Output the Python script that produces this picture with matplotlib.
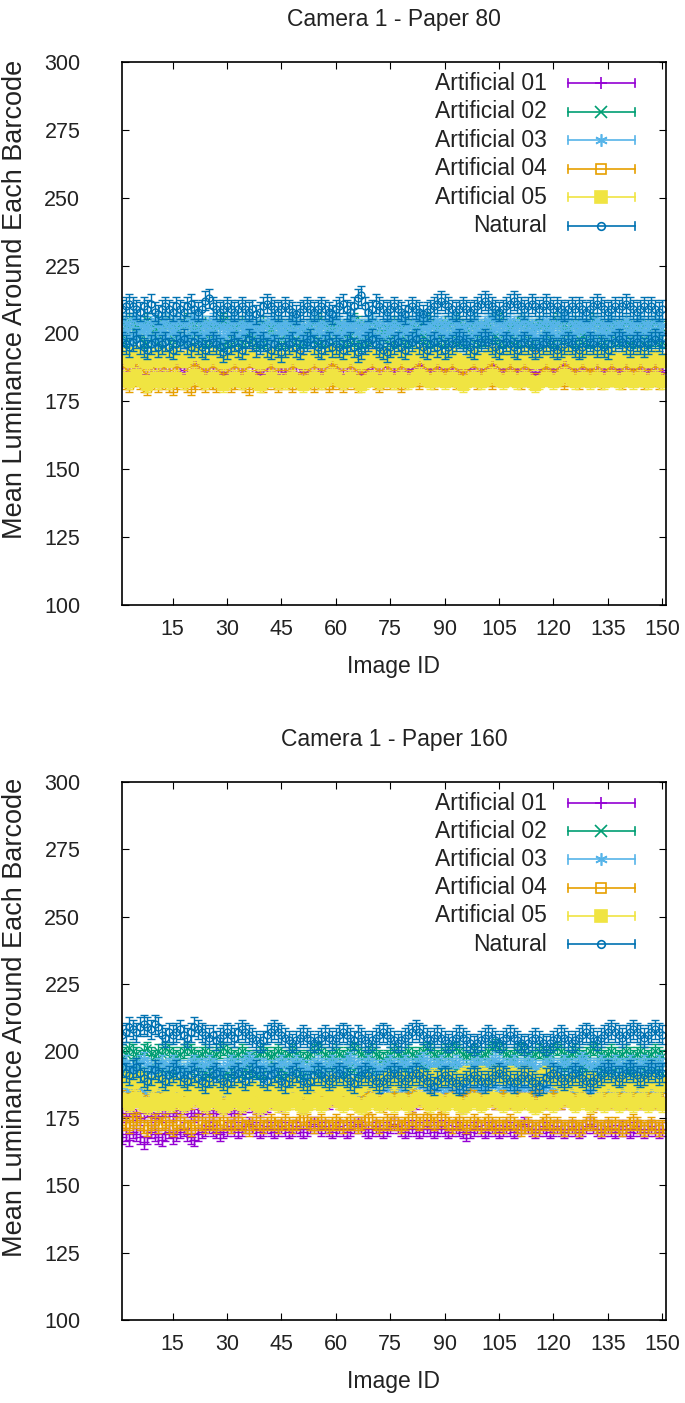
import numpy as np
import matplotlib
matplotlib.use("Agg")
import matplotlib.pyplot as plt

plt.rcParams['font.family'] = ['Liberation Sans', 'DejaVu Sans']

image_id = np.arange(1, 151)
labels = ["Artificial 01", "Artificial 02", "Artificial 03",
          "Artificial 04", "Artificial 05", "Natural"]
colors = ["#9400d3", "#009e73", "#56b4e9", "#e69f00", "#f0e442", "#0072b2"]
errs = [2.5, 2.5, 2.5, 2.5, 2.5, 3.5]

# ---- Camera 1 - Paper 80 (two barcode bands per series) ----
p80_a01_hi = [190,191,189,188,190,192,191,189,188,190,191,190,189,188,190,
              191,189,190,192,191,190,189,188,189,190,191,190,189,188,189,
              190,191,190,189,190,191,192,190,189,188,189,190,191,190,189,
              188,189,190,191,190,189,188,190,191,190,189,190,191,189,188,
              189,190,191,190,189,188,189,190,191,192,190,189,188,189,190,
              189,188,189,190,189,188,187,188,189,190,189,188,189,190,189,
              188,189,190,189,188,189,190,191,190,189,188,189,190,189,188,
              189,190,189,188,189,190,191,190,189,188,189,190,189,190,189,
              188,189,190,191,190,189,188,189,190,189,188,189,190,189,188,
              189,190,189,188,189,190,189,188,189,190,189,188,189,190,189]
p80_a01_lo = [186,185,184,186,187,185,184,183,185,186,184,185,186,184,183,
              185,186,185,184,183,185,186,185,184,186,185,184,185,186,185,
              184,185,186,185,184,183,185,186,185,184,185,186,185,184,185,
              186,185,184,185,186,187,186,185,184,185,186,185,184,185,186,
              185,184,185,186,185,184,185,186,187,186,185,184,185,186,185,
              186,185,184,185,186,187,186,185,186,187,186,185,186,187,186,
              187,186,185,186,187,188,187,186,185,186,187,186,185,186,187,
              186,187,188,187,186,185,186,187,186,185,186,187,188,187,186,
              187,186,185,186,187,186,185,186,187,188,187,186,185,186,187,
              186,187,186,185,186,187,188,187,186,185,186,187,186,185,186]
p80_a02_hi = [204,203,205,204,203,202,204,205,203,202,204,203,205,204,203,
              202,203,204,205,204,203,202,203,204,203,202,203,204,205,204,
              203,202,203,204,203,202,201,202,203,204,203,202,203,204,203,
              202,203,204,203,202,201,202,203,204,205,204,203,202,203,204,
              203,202,203,204,205,204,203,202,203,204,203,202,201,202,203,
              204,203,202,203,204,203,202,203,204,205,204,203,202,203,204,
              203,204,205,204,203,202,203,204,203,202,203,204,205,206,205,
              204,203,202,203,204,205,204,203,202,203,204,203,202,203,204,
              205,204,203,202,203,204,203,202,203,204,205,204,203,202,203,
              204,203,202,203,204,203,202,203,204,203,202,203,204,203,202]
p80_a02_lo = [199,198,197,199,200,198,197,196,198,199,197,198,199,197,198,
              199,198,197,198,199,200,199,198,197,198,199,198,197,196,197,
              198,199,198,197,198,199,198,197,196,197,198,199,198,197,198,
              197,198,199,198,197,196,197,198,199,198,197,198,199,200,199,
              198,197,198,199,198,197,196,197,198,199,198,197,198,199,198,
              197,198,199,198,197,198,199,200,199,198,197,198,199,198,197,
              198,199,198,197,196,197,198,199,198,197,198,199,200,199,198,
              197,198,199,198,197,198,199,198,197,196,197,198,199,198,197,
              198,199,200,199,198,197,198,199,198,197,198,199,198,197,198,
              199,198,197,198,199,198,197,198,199,198,197,198,199,198,197]
p80_a03_hi = [205,204,203,205,206,204,203,202,204,205,203,204,205,203,204,
              205,204,203,204,205,206,205,204,203,204,205,204,203,202,203,
              204,205,204,203,204,205,204,203,202,203,204,205,204,203,204,
              203,204,205,204,203,202,203,204,205,204,203,204,205,206,205,
              204,203,204,205,204,203,202,203,204,205,204,203,204,205,204,
              203,204,205,204,203,204,205,206,205,204,203,204,205,204,203,
              204,205,204,203,202,203,204,205,204,203,204,205,206,205,204,
              203,204,205,204,203,204,205,204,203,202,203,204,205,204,203,
              204,205,206,205,204,203,204,205,204,203,204,205,204,203,204,
              205,204,203,204,205,204,203,204,205,204,203,204,205,204,203]
p80_a03_lo = [200,201,199,198,200,201,202,200,199,198,200,201,199,200,201,
              200,199,198,199,200,201,200,199,200,201,200,199,198,199,200,
              201,200,199,200,201,202,201,200,199,200,199,198,199,200,201,
              200,199,200,201,200,199,198,199,200,201,200,199,200,201,200,
              199,200,201,202,201,200,199,200,201,200,199,198,199,200,201,
              200,199,200,201,200,199,200,201,202,201,200,199,200,201,200,
              199,200,201,200,199,198,199,200,201,200,199,200,201,202,201,
              200,199,200,201,200,199,200,201,200,199,198,199,200,201,200,
              199,200,201,200,199,200,201,202,201,200,199,200,201,200,199,
              200,201,200,199,200,201,200,199,200,201,200,199,200,201,200]
p80_a04_hi = [190,189,188,190,191,189,188,187,189,190,188,189,190,188,187,
              189,190,191,189,188,190,189,188,187,189,190,189,188,187,188,
              189,190,188,187,189,190,191,189,188,189,190,189,188,189,190,
              189,188,189,190,191,190,189,188,189,190,189,188,189,190,189,
              188,189,190,189,188,187,188,189,190,191,189,188,187,188,189,
              190,189,188,189,190,191,190,189,188,189,190,189,188,187,188,
              189,190,189,188,189,190,191,190,189,188,189,190,189,188,189,
              190,189,188,189,190,189,188,189,190,191,190,189,188,189,190,
              189,188,189,190,189,188,189,190,189,188,187,188,189,190,189,
              188,189,190,189,188,189,190,189,188,189,190,189,188,189,190]
p80_a04_lo = [183,182,181,183,184,182,181,180,182,183,181,182,183,181,180,
              182,183,182,181,180,182,183,182,181,183,182,181,182,183,182,
              181,182,183,182,181,180,182,183,182,181,182,183,182,181,182,
              183,182,181,182,183,184,183,182,181,182,183,182,181,182,183,
              182,181,182,183,182,181,182,183,184,183,182,181,182,183,182,
              183,182,181,182,183,184,183,182,183,184,183,182,183,184,183,
              184,183,182,183,184,185,184,183,182,183,184,183,182,183,184,
              183,184,185,184,183,182,183,184,183,182,183,184,185,184,183,
              184,183,182,183,184,183,182,183,184,185,184,183,182,183,184,
              183,184,183,182,183,184,185,184,183,182,183,184,183,182,183]
p80_a05_hi = [192,191,190,192,193,191,190,189,191,192,190,191,192,190,191,
              192,191,190,191,192,193,192,191,190,191,192,191,190,189,190,
              191,192,191,190,191,192,191,190,189,190,191,192,191,190,191,
              190,191,192,191,190,189,190,191,192,191,190,191,192,193,192,
              191,190,191,192,191,190,189,190,191,192,191,190,191,192,191,
              190,191,192,191,190,191,192,193,192,191,190,191,192,191,190,
              191,192,191,190,189,190,191,192,191,190,191,192,193,192,191,
              190,191,192,191,190,191,192,191,190,189,190,191,192,191,190,
              191,192,193,192,191,190,191,192,191,190,191,192,191,190,191,
              192,191,190,191,192,191,190,191,192,191,190,191,192,191,190]
p80_a05_lo = [184,183,182,184,185,183,182,181,183,184,182,183,184,182,183,
              184,183,182,183,184,185,184,183,182,183,184,183,182,181,182,
              183,184,183,182,183,184,183,182,181,182,183,184,183,182,183,
              182,183,184,183,182,181,182,183,184,183,182,183,184,185,184,
              183,182,183,184,183,182,181,182,183,184,183,182,183,184,183,
              182,183,184,183,182,183,184,185,184,183,182,183,184,183,182,
              183,184,183,182,181,182,183,184,183,182,183,184,185,184,183,
              182,183,184,183,182,183,184,183,182,181,182,183,184,183,182,
              183,184,185,184,183,182,183,184,183,182,183,184,183,182,183,
              184,183,182,183,184,183,182,183,184,183,182,183,184,183,182]
p80_nat_hi = [209,210,211,210,209,208,210,209,211,208,207,209,210,209,208,
              210,209,208,210,211,209,208,209,212,213,210,209,208,209,210,
              209,208,209,210,209,208,209,207,208,210,211,210,209,208,209,
              210,209,208,207,208,209,210,209,208,209,210,209,208,207,209,
              210,211,209,208,210,213,214,210,208,209,211,210,209,208,209,
              210,209,208,207,209,210,209,208,207,208,209,210,211,212,211,
              210,209,208,209,210,209,208,209,210,211,212,211,210,209,208,
              209,210,211,212,211,210,209,210,211,210,209,210,211,210,209,
              210,209,208,209,210,209,210,209,208,209,210,211,210,209,208,
              209,210,209,210,211,210,209,208,209,210,209,210,209,208,209]
p80_nat_lo = [197,196,195,197,198,196,195,194,196,197,195,196,197,195,194,
              196,197,198,196,195,197,196,195,194,196,197,196,195,193,194,
              196,197,195,194,196,198,197,195,196,197,195,194,196,195,193,
              195,196,197,195,194,196,197,198,196,195,194,196,197,195,196,
              195,194,196,197,195,193,194,196,197,198,196,195,194,193,195,
              196,197,195,194,196,197,198,196,195,194,196,197,195,196,194,
              195,196,197,198,197,196,195,194,196,197,198,197,196,195,194,
              196,197,196,195,194,196,197,196,195,194,195,196,197,196,195,
              194,195,196,197,196,195,194,195,196,197,196,195,196,195,194,
              196,197,198,197,196,195,196,197,196,195,196,197,198,197,196]

# ---- Camera 1 - Paper 160 ----
p160_a01_hi = [177,176,178,177,176,175,177,178,176,175,177,176,178,177,176,
               177,178,179,178,177,176,177,178,179,178,177,178,179,180,179,
               178,177,178,179,180,181,180,179,178,179,180,181,182,181,180,
               181,182,183,182,181,180,181,182,183,184,183,182,181,182,183,
               184,185,184,183,182,183,184,185,184,183,182,183,184,183,182,
               181,182,183,182,181,180,181,182,183,182,181,182,183,182,181,
               182,183,182,181,180,181,182,183,182,181,182,183,182,181,182,
               183,182,181,182,183,184,183,182,181,182,183,182,181,182,183,
               182,181,182,183,182,181,182,183,184,183,182,181,182,183,182,
               181,182,183,182,181,182,183,182,181,182,183,182,181,182,183]
p160_a01_lo = [168,169,167,170,169,168,166,168,170,169,168,167,169,170,168,
               169,170,171,169,168,167,169,170,171,172,171,170,169,170,171,
               172,171,170,171,172,173,172,171,170,171,172,171,170,171,172,
               171,170,171,172,171,170,171,172,173,172,171,172,171,170,171,
               172,171,170,171,172,173,172,171,170,171,172,171,170,171,172,
               173,172,171,170,171,172,171,170,171,172,171,170,171,172,171,
               170,171,172,171,170,169,170,171,172,171,170,171,172,171,170,
               171,172,171,170,171,172,173,172,171,170,171,172,171,170,171,
               172,171,170,171,172,171,170,171,172,173,172,171,170,171,172,
               171,170,171,172,171,170,171,172,171,170,171,172,171,170,171]
p160_a02_hi = [200,199,201,200,199,198,200,201,199,198,200,199,201,200,199,
               198,199,200,201,200,199,198,199,200,199,198,199,200,201,200,
               199,198,199,200,199,198,197,198,199,200,199,198,199,200,199,
               198,199,200,199,198,197,198,199,200,201,200,199,198,199,200,
               199,198,199,200,201,200,199,198,199,200,199,198,197,198,199,
               200,199,198,199,200,199,198,199,200,201,200,199,198,199,200,
               199,200,201,200,199,198,199,200,199,198,199,200,201,202,201,
               200,199,198,199,200,201,200,199,198,199,200,199,198,199,200,
               201,200,199,198,199,200,199,198,199,200,201,200,199,198,199,
               200,199,198,199,200,199,198,199,200,199,198,199,200,199,198]
p160_a02_lo = [194,193,192,194,195,193,192,191,193,194,192,193,194,192,193,
               194,193,192,193,194,195,194,193,192,193,194,193,192,191,192,
               193,194,193,192,193,194,193,192,191,192,193,194,193,192,193,
               192,193,194,193,192,191,192,193,194,193,192,193,194,195,194,
               193,192,193,194,193,192,191,192,193,194,193,192,193,194,193,
               192,193,194,193,192,193,194,195,194,193,192,193,194,193,192,
               193,194,193,192,191,192,193,194,193,192,193,194,195,194,193,
               192,193,194,193,192,193,194,193,192,191,192,193,194,193,192,
               193,194,195,194,193,192,193,194,193,192,193,194,193,192,193,
               194,193,192,193,194,193,192,193,194,193,192,193,194,193,192]
p160_a03_hi = [195,196,194,193,195,196,197,195,194,193,195,196,194,195,196,
               195,194,193,194,195,196,195,194,195,196,195,194,193,194,195,
               196,195,194,195,196,197,196,195,194,195,194,193,194,195,196,
               195,194,195,196,195,194,193,194,195,196,195,194,195,196,195,
               194,195,196,197,196,195,194,195,196,195,194,193,194,195,196,
               195,194,195,196,195,194,195,196,197,196,195,194,195,196,195,
               194,195,196,195,194,193,194,195,196,195,194,195,196,197,196,
               195,194,195,196,195,194,195,196,195,194,193,194,195,196,195,
               194,195,196,195,194,195,196,197,196,195,194,195,196,195,194,
               195,196,195,194,195,196,195,194,195,196,195,194,195,196,195]
p160_a03_lo = [187,186,185,187,188,186,185,184,186,187,185,186,187,185,186,
               187,186,185,186,187,188,187,186,185,186,187,186,185,184,185,
               186,187,186,185,186,187,186,185,184,185,186,187,186,185,186,
               185,186,187,186,185,184,185,186,187,186,185,186,187,188,187,
               186,185,186,187,186,185,184,185,186,187,186,185,186,187,186,
               185,186,187,186,185,186,187,188,187,186,185,186,187,186,185,
               186,187,186,185,184,185,186,187,186,185,186,187,188,187,186,
               185,186,187,186,185,186,187,186,185,184,185,186,187,186,185,
               186,187,188,187,186,185,186,187,186,185,186,187,186,185,186,
               187,186,185,186,187,186,185,186,187,186,185,186,187,186,185]
p160_a04_hi = [183,182,181,183,184,182,181,180,182,183,181,182,183,181,180,
               182,183,184,182,181,183,182,181,180,182,183,182,181,180,181,
               182,183,181,180,182,183,184,182,181,182,183,182,181,182,183,
               182,181,182,183,184,183,182,181,182,183,182,181,182,183,182,
               181,182,183,182,181,180,181,182,183,184,182,181,180,181,182,
               183,182,181,182,183,184,183,182,181,182,183,182,181,180,181,
               182,183,182,181,182,183,184,183,182,181,182,183,182,181,182,
               183,182,181,182,183,182,181,182,183,184,183,182,181,182,183,
               182,181,182,183,182,181,182,183,182,181,180,181,182,183,182,
               181,182,183,182,181,182,183,182,181,182,183,182,181,182,183]
p160_a04_lo = [174,173,172,174,175,173,172,171,173,174,172,173,174,172,171,
               173,174,173,172,171,173,174,173,172,174,173,172,173,174,173,
               172,173,174,173,172,171,173,174,173,172,173,174,173,172,173,
               174,173,172,173,174,175,174,173,172,173,174,173,172,173,174,
               173,172,173,174,173,172,173,174,175,174,173,172,173,174,173,
               174,173,172,173,174,175,174,173,174,175,174,173,174,175,174,
               173,172,173,174,173,172,173,174,173,172,173,174,173,172,173,
               172,173,174,173,172,171,172,173,172,171,172,173,174,173,172,
               173,172,171,172,173,172,171,172,173,174,173,172,171,172,173,
               172,173,172,171,172,173,174,173,172,171,172,173,172,171,172]
p160_a05_hi = [189,190,189,188,189,190,189,188,187,188,189,188,187,186,187,
               188,187,186,187,188,187,186,185,186,187,186,185,186,187,186,
               185,186,187,186,185,186,187,186,185,184,185,186,187,186,185,
               186,187,188,187,186,185,186,187,188,187,186,187,188,189,188,
               187,186,187,188,187,186,187,188,189,188,187,188,189,190,189,
               188,189,190,189,188,189,190,191,190,189,190,191,190,189,190,
               191,190,189,190,191,192,191,190,191,192,191,190,191,192,191,
               190,191,192,191,190,191,192,191,190,189,190,191,192,191,190,
               189,188,187,188,189,188,187,188,189,190,189,188,187,188,189,
               188,187,188,189,188,187,188,189,188,187,188,189,188,187,188]
p160_a05_lo = [182,181,180,182,183,181,180,179,181,182,180,181,182,180,181,
               182,181,180,181,182,183,182,181,180,181,182,181,180,179,180,
               181,182,181,180,181,182,181,180,179,180,181,182,181,180,181,
               180,181,182,181,180,179,180,181,182,181,180,181,182,183,182,
               181,180,181,182,181,180,179,180,181,182,181,180,181,182,181,
               180,181,182,181,180,181,182,183,182,181,180,181,182,181,180,
               181,182,181,180,179,180,181,182,181,180,181,182,183,182,181,
               180,181,182,181,180,181,182,181,180,179,180,181,182,181,180,
               181,182,183,182,181,180,181,182,181,180,181,182,181,180,181,
               182,181,180,181,182,181,180,181,182,181,180,181,182,181,180]
p160_nat_hi = [206,207,209,208,207,209,210,209,208,210,209,206,205,207,206,
               207,208,206,205,207,209,208,207,206,205,206,204,205,206,207,
               206,205,207,208,207,206,205,204,203,204,206,207,208,207,206,
               205,204,203,204,205,206,205,204,203,204,205,206,205,204,205,
               206,207,206,205,204,206,205,204,203,204,205,206,207,206,205,
               204,203,204,205,206,207,208,207,206,205,204,205,206,205,204,
               203,204,205,206,205,204,203,202,203,204,205,206,205,204,203,
               204,205,206,205,204,203,202,203,204,205,204,203,202,203,204,
               205,206,205,204,203,204,205,206,207,206,205,204,205,206,207,
               208,207,206,205,206,207,208,207,206,205,206,207,208,207,206]
p160_nat_lo = [194,192,191,193,194,192,190,189,191,193,192,190,189,191,192,
               193,191,190,189,191,192,190,189,188,190,191,192,190,189,188,
               190,191,192,190,189,191,192,193,191,190,189,191,192,190,189,
               188,190,191,192,190,189,188,189,191,192,191,190,189,190,191,
               192,191,190,189,188,190,191,192,191,190,189,188,189,190,191,
               192,191,190,189,190,191,192,191,190,189,188,187,189,190,191,
               190,189,188,187,188,189,190,191,190,189,188,189,190,191,192,
               191,190,189,188,189,190,191,190,189,188,187,188,190,191,192,
               191,190,189,190,191,192,191,190,189,188,189,190,191,192,193,
               192,191,190,191,192,193,192,191,190,191,192,193,192,191,192]

panels = [
    ("Camera 1 - Paper 80",
     [(p80_a01_hi, p80_a01_lo), (p80_a02_hi, p80_a02_lo), (p80_a03_hi, p80_a03_lo),
      (p80_a04_hi, p80_a04_lo), (p80_a05_hi, p80_a05_lo), (p80_nat_hi, p80_nat_lo)]),
    ("Camera 1 - Paper 160",
     [(p160_a01_hi, p160_a01_lo), (p160_a02_hi, p160_a02_lo), (p160_a03_hi, p160_a03_lo),
      (p160_a04_hi, p160_a04_lo), (p160_a05_hi, p160_a05_lo), (p160_nat_hi, p160_nat_lo)]),
]

# gnuplot-like point types
styles = [
    dict(marker='+', ms=7, mfc='none'),
    dict(marker='x', ms=6, mfc='none'),
    dict(marker=(6, 2, 0), ms=7, mfc='none'),
    dict(marker='s', ms=5.5, mfc='none'),
    dict(marker='s', ms=7),
    dict(marker='o', ms=5, mfc='none'),
]
key_ms = [8, 8, 9, 7.5, 8, 5.5]

fig = plt.figure(figsize=(6.85, 14.03), dpi=100)
axes_pos = [[0.178, 0.5688, 0.794, 0.387], [0.178, 0.0592, 0.794, 0.3834]]

for (title, series), pos in zip(panels, axes_pos):
    ax = fig.add_axes(pos)
    for i, (hi, lo) in enumerate(series):
        x = np.concatenate([image_id, image_id])
        y = np.concatenate([hi, lo])
        ax.errorbar(x, y, yerr=errs[i], fmt='none', ecolor=colors[i],
                    elinewidth=1, capsize=3, capthick=1)
        ax.plot(x, y, ls='none', color=colors[i], mec=colors[i], mew=1, **styles[i])

    ax.set_xlim(1, 151)
    ax.set_ylim(100, 300)
    ax.set_xticks(range(15, 151, 15))
    ax.set_yticks(range(100, 301, 25))
    ax.tick_params(direction='in', top=True, right=True, length=5,
                   labelsize=15.5, labelcolor='#222222')
    ax.tick_params(axis='x', pad=10)
    ax.tick_params(axis='y', pad=30)
    for s in ax.spines.values():
        s.set_linewidth(1.2)
    ax.set_title(title, fontsize=16.5, pad=26, color='#222222')
    ax.set_xlabel("Image ID", fontsize=16.5, labelpad=11, color='#222222')
    ax.set_ylabel("Mean Luminance Around Each Barcode", fontsize=19.5,
                  color='#222222')
    ax.yaxis.set_label_coords(-0.172, 0.563)

    # gnuplot style key: right-aligned text, horizontal bar with caps and point
    y0, dy, cap = 0.961, 0.0525, 0.0075
    for i in range(6):
        yk = y0 - i * dy
        ax.text(0.781, yk, labels[i], ha='right', va='center', fontsize=16.5,
                color='#222222', transform=ax.transAxes)
        ax.plot([0.820, 0.943], [yk, yk], color=colors[i], lw=1.2,
                transform=ax.transAxes)
        for xc in (0.820, 0.943):
            ax.plot([xc, xc], [yk - cap, yk + cap], color=colors[i], lw=1.2,
                    transform=ax.transAxes)
        st = dict(styles[i])
        st['ms'] = key_ms[i]
        ax.plot([0.881], [yk], ls='none', color=colors[i], mec=colors[i],
                mew=1.2, transform=ax.transAxes, **st)

fig.savefig("out.png", dpi=100)
